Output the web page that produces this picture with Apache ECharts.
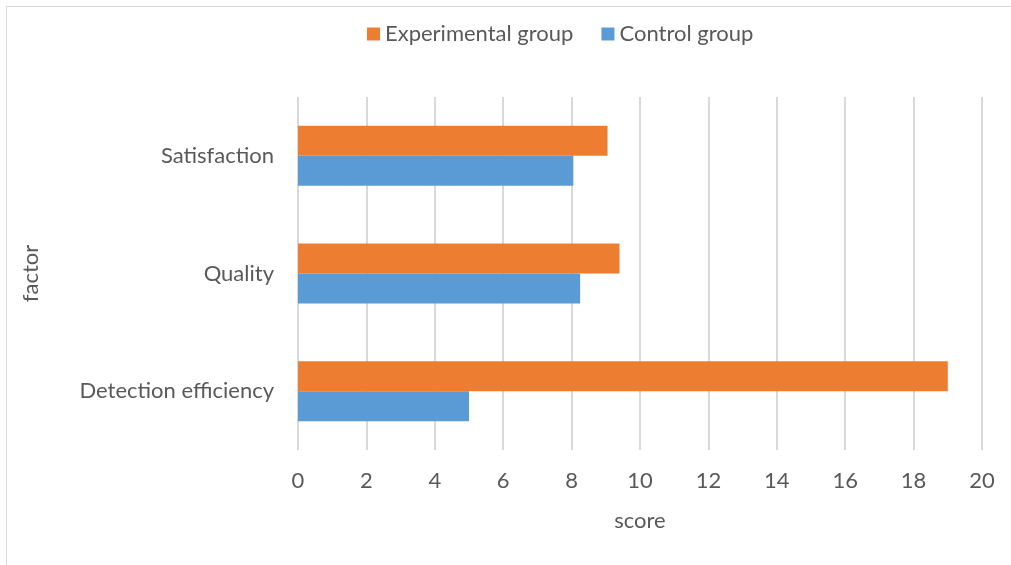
<!DOCTYPE html>
<html>
<head>
<meta charset="utf-8">
<script src="https://cdn.jsdelivr.net/npm/echarts@6/dist/echarts.min.js"></script>
<style>
  html, body { margin: 0; padding: 0; background: #fff; }
  #frame { position: absolute; left: 6px; top: 6px; width: 1100px; height: 600px;
           border-left: 1px solid #d9d9d9; border-top: 1px solid #d9d9d9; }
  #chart { position: absolute; left: 0; top: 0; width: 1011px; height: 565px; }
</style>
</head>
<body>
<div id="frame"></div>
<div id="chart"></div>
<script>
const categories = ['Detection efficiency', 'Quality', 'Satisfaction'];
const experimental = [19.0, 9.4, 9.05];
const control = [5.0, 8.25, 8.05];

const font = 'Lato, "Open Sans", sans-serif';
const textColor = '#595959';
const fs = 22;

let myChart = echarts.init(document.getElementById('chart'));
let option = {
  animation: false,
  legend: {
    left: 362,
    top: 18,
    itemWidth: 13,
    itemHeight: 13,
    itemGap: 28,
    icon: 'rect',
    textStyle: { fontFamily: font, fontSize: fs, color: textColor },
    data: ['Experimental group', 'Control group']
  },
  grid: { left: 298, right: 29, top: 97, bottom: 115 },
  xAxis: {
    type: 'value',
    min: 0,
    max: 20,
    interval: 2,
    name: 'score',
    nameLocation: 'middle',
    nameGap: 60,
    nameTextStyle: { fontFamily: font, fontSize: fs, color: textColor },
    axisLine: { show: false },
    axisTick: { show: false },
    axisLabel: { fontFamily: font, fontSize: fs, color: textColor, margin: 20 },
    splitLine: { lineStyle: { color: '#d9d9d9', width: 2 } }
  },
  yAxis: {
    type: 'category',
    data: categories,
    name: 'factor',
    nameLocation: 'middle',
    nameGap: 256,
    nameTextStyle: { fontFamily: font, fontSize: fs, color: textColor },
    axisLine: { show: false },
    axisTick: { show: false },
    axisLabel: { fontFamily: font, fontSize: fs, color: textColor, margin: 24, padding: [4, 0, 0, 0] }
  },
  series: [
    {
      name: 'Experimental group',
      type: 'bar',
      data: experimental,
      barWidth: 30,
      barGap: '0%',
      itemStyle: { color: '#ED7D31' }
    },
    {
      name: 'Control group',
      type: 'bar',
      data: control,
      barWidth: 30,
      barGap: '0%',
      itemStyle: { color: '#5B9BD5' }
    }
  ]
};
myChart.setOption(option);
</script>
</body>
</html>
